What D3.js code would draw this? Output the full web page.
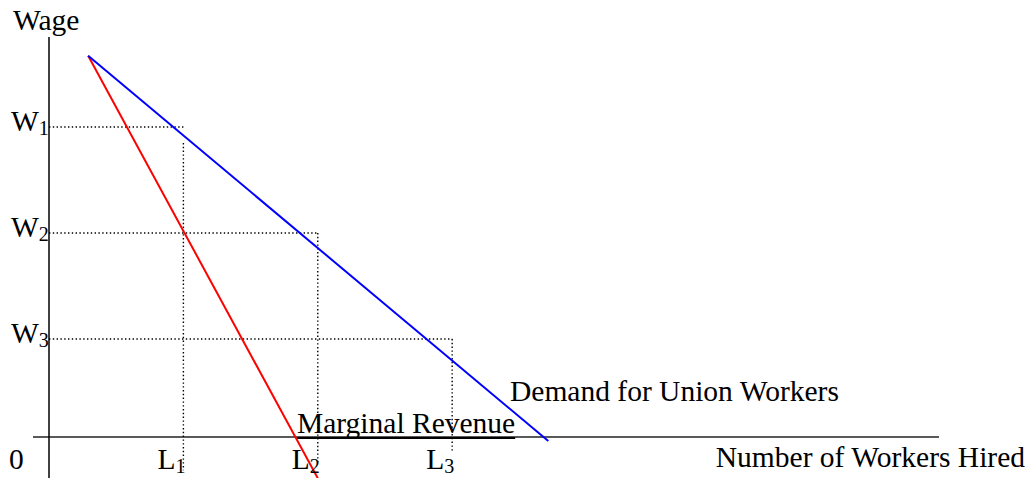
<!DOCTYPE html>
<html>
<head>
<meta charset="utf-8">
<script src="https://cdn.jsdelivr.net/npm/d3@7"></script>
<style>
  body { margin: 0; background: #fff; }
  text { font-family: "Liberation Serif", "Times New Roman", serif; fill: #000; }
</style>
</head>
<body>
<div id="chart"></div>
<script>
// values (x: workers, y: wage, both on a 0-100 scale)
var demandCurve = [[4.4, 95.3], [56.1, -1]];
var mrCurve = [[4.4, 95.3], [30.2, -10.3]];
var wageLevels = [77.5, 51, 24.5];
var wageSubs = ["1", "2", "3"];
var laborLevels = [15.1, 30.2, 45.3];
var laborSubs = ["1", "2", "3"];
var guideTop = [73.5, 51, 24.5];     // where each vertical dotted guide starts
var guideBottom = [-8.3, -6.3, -3.8]; // where it stops below the axis

var width = 1028, height = 478;
var fontSize = "29.5px", subSize = "20px";

var svg = d3.select("#chart")
  .append("svg")
	.attr("width", width)
	.attr("height", height);

var x = d3.scaleLinear().domain([0, 100]).range([49, 939]);
var y = d3.scaleLinear().domain([0, 100]).range([437, 37]);

// axes
svg.append("line")
	.attr("x1", x(-1.8)).attr("x2", x(100))
	.attr("y1", y(0)).attr("y2", y(0))
	.attr("stroke", "#222").attr("stroke-width", 1.3);
svg.append("line")
	.attr("x1", x(0)).attr("x2", x(0))
	.attr("y1", y(100)).attr("y2", y(-10.3))
	.attr("stroke", "#000").attr("stroke-width", 1.5);

// dotted guides
function dotted(sel) {
	return sel.attr("stroke", "#000")
		.attr("stroke-width", 1.4)
		.attr("stroke-dasharray", "1.4,2.4");
}
wageLevels.forEach(function(w, i) {
	dotted(svg.append("line")
		.attr("x1", x(0)).attr("x2", x(laborLevels[i]))
		.attr("y1", y(w)).attr("y2", y(w)));
	dotted(svg.append("line")
		.attr("x1", x(laborLevels[i])).attr("x2", x(laborLevels[i]))
		.attr("y1", y(guideTop[i])).attr("y2", y(guideBottom[i])));
});

// curves
var line = d3.line()
	.x(function(d) { return x(d[0]); })
	.y(function(d) { return y(d[1]); });

svg.append("path")
	.datum(mrCurve)
	.attr("fill", "none")
	.attr("stroke", "#ff0000")
	.attr("stroke-width", 2)
	.attr("d", line);

svg.append("path")
	.datum(demandCurve)
	.attr("fill", "none")
	.attr("stroke", "#0000ff")
	.attr("stroke-width", 2)
	.attr("d", line);

// labels
svg.append("text")
	.attr("x", 13).attr("y", 30)
	.style("font-size", fontSize)
	.text("Wage");

svg.append("text")
	.attr("x", 9).attr("y", 469)
	.style("font-size", fontSize)
	.text("0");

wageLevels.forEach(function(w, i) {
	var t = svg.append("text")
		.attr("x", 11).attr("y", y(w) + 4)
		.style("font-size", fontSize);
	t.append("tspan").text("W");
	t.append("tspan").attr("dy", 4).style("font-size", subSize).text(wageSubs[i]);
});

laborLevels.forEach(function(l, i) {
	var t = svg.append("text")
		.attr("x", x(l) - 26).attr("y", 469)
		.style("font-size", fontSize);
	t.append("tspan").text("L");
	t.append("tspan").attr("dy", 4).style("font-size", subSize).text(laborSubs[i]);
});

var mr = svg.append("text")
	.attr("x", 297).attr("y", 433)
	.style("font-size", fontSize)
	.text("Marginal Revenue");
var mrLen = mr.node().getComputedTextLength();
svg.append("line")
	.attr("x1", 297).attr("x2", 297 + mrLen)
	.attr("y1", 438).attr("y2", 438)
	.attr("stroke", "#000").attr("stroke-width", 2);

svg.append("text")
	.attr("x", 510).attr("y", 401)
	.style("font-size", fontSize)
	.text("Demand for Union Workers");

svg.append("text")
	.attr("x", 1025).attr("y", 467)
	.attr("text-anchor", "end")
	.style("font-size", fontSize)
	.text("Number of Workers Hired");
</script>
</body>
</html>
